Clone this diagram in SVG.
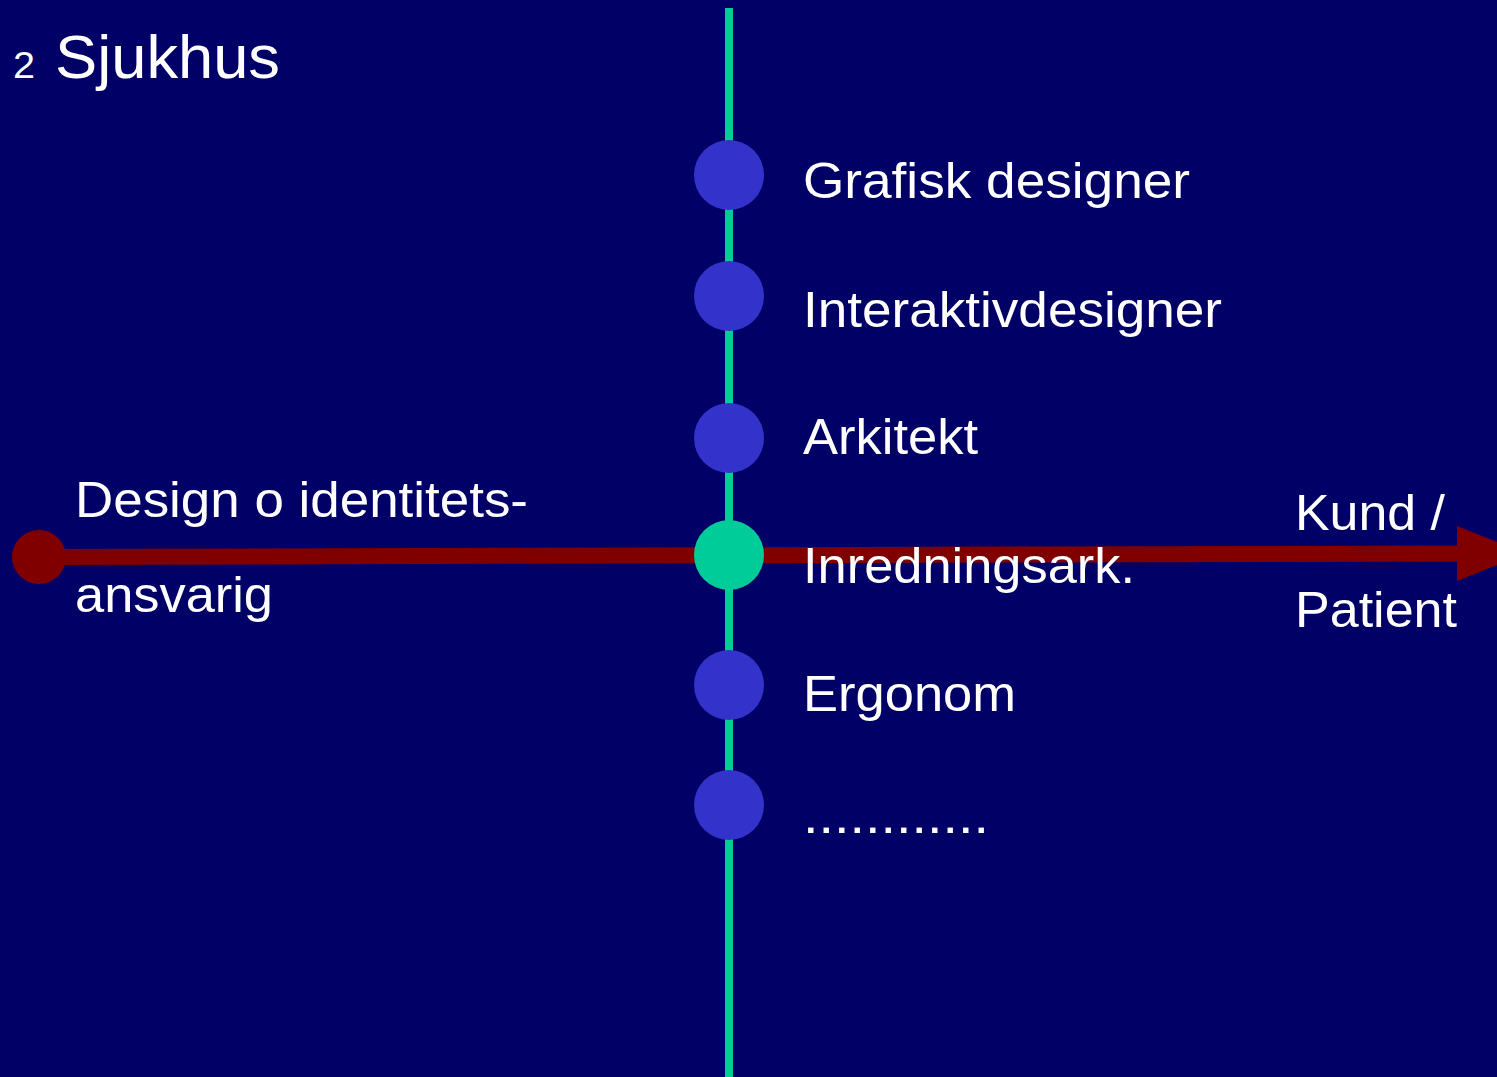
<svg xmlns="http://www.w3.org/2000/svg" width="1497" height="1077" viewBox="0 0 1497 1077">
<style>
.t{font-family:"Liberation Sans",Arial,sans-serif;fill:#fff;font-size:50px}
.dot{fill:#3333cc}
</style>
<rect x="0" y="0" width="1497" height="1077" fill="#000066"/>
<g id="title">
<text class="t" x="13" y="78" style="font-size:36px" textLength="22" lengthAdjust="spacingAndGlyphs">2</text>
<text class="t" x="55" y="78" style="font-size:62px" textLength="225" lengthAdjust="spacingAndGlyphs">Sjukhus</text>
</g>
<g id="connectors">
<rect x="725" y="8" width="8" height="1069" fill="#00cc99"/>
<line x1="39" y1="557" x2="1460" y2="553.5" stroke="#800000" stroke-width="16"/>
<polygon points="1457,526 1526,553.5 1457,581" fill="#800000"/>
</g>
<g id="start">
<circle cx="39" cy="557" r="27" fill="#800000"/>
<text class="t" x="75" y="517" textLength="453" lengthAdjust="spacingAndGlyphs">Design o identitets-</text>
<text class="t" x="75" y="612" textLength="198" lengthAdjust="spacingAndGlyphs">ansvarig</text>
</g>
<g id="end">
<text class="t" x="1295" y="530" textLength="150" lengthAdjust="spacingAndGlyphs">Kund /</text>
<text class="t" x="1295" y="627" textLength="162" lengthAdjust="spacingAndGlyphs">Patient</text>
</g>
<g id="n1"><circle class="dot" cx="729" cy="175" r="35"/><text class="t" x="803" y="198" textLength="387" lengthAdjust="spacingAndGlyphs">Grafisk designer</text></g>
<g id="n2"><circle class="dot" cx="729" cy="296" r="35"/><text class="t" x="803" y="327" textLength="419" lengthAdjust="spacingAndGlyphs">Interaktivdesigner</text></g>
<g id="n3"><circle class="dot" cx="729" cy="438" r="35"/><text class="t" x="803" y="454" textLength="175" lengthAdjust="spacingAndGlyphs">Arkitekt</text></g>
<g id="n4"><circle cx="729" cy="555" r="35" fill="#00cc99"/><text class="t" x="803" y="583" textLength="332" lengthAdjust="spacingAndGlyphs">Inredningsark.</text></g>
<g id="n5"><circle class="dot" cx="729" cy="685" r="35"/><text class="t" x="803" y="711" textLength="213" lengthAdjust="spacingAndGlyphs">Ergonom</text></g>
<g id="n6"><circle class="dot" cx="729" cy="805" r="35"/><text class="t" x="803" y="833" textLength="186" lengthAdjust="spacingAndGlyphs">............</text></g>
</svg>
